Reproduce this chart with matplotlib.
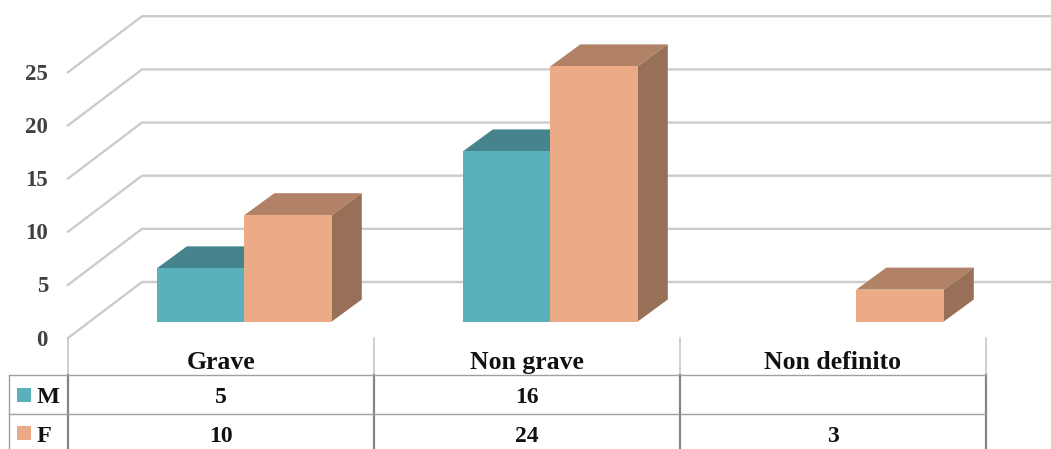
import matplotlib
matplotlib.use('Agg')
import matplotlib.pyplot as plt
from matplotlib.patches import Polygon, Rectangle

categories = ['Grave', 'Non grave', 'Non definito']
series_names = ['M', 'F']
m_values = [5, 16, None]
f_values = [10, 24, 3]
y_ticks = [0, 5, 10, 15, 20, 25]

W, H = 1051, 449
CAT_PX = 306.0    # larghezza categoria
UNIT_PX = 10.63   # pixel per unita
X0_PX = 68.0
Y0_PX = 321.5     # base delle barre

plt.rcParams['font.family'] = ['Liberation Serif', 'DejaVu Serif']
plt.rcParams['font.weight'] = 'bold'

fig = plt.figure(figsize=(W / 100, H / 100), dpi=100)
ax = fig.add_axes([0, 0, 1, 1])
ax.set_xlim(-X0_PX / CAT_PX, (W - X0_PX) / CAT_PX)
ax.set_ylim((Y0_PX - H) / UNIT_PX, Y0_PX / UNIT_PX)
ax.axis('off')


def dx(px):
    return px / CAT_PX


def dy(px):
    return px / UNIT_PX


def py(px):
    # posizione verticale in pixel dell'immagine -> dati
    return (Y0_PX - px) / UNIT_PX


def px_x(px):
    return (px - X0_PX) / CAT_PX


# griglia prospettica
grid_col = '#cccccc'
for v in y_ticks:
    y_front = v - dy(16.5)
    y_back = v + dy(39.5)
    ax.plot([0, dx(74), (W + 5 - X0_PX) / CAT_PX], [y_front, y_back, y_back],
            color=grid_col, lw=1.7, solid_joinstyle='miter', zorder=1)
    ax.text(dx(-20), y_front - dy(7.5), str(v), ha='right', va='baseline',
            fontsize=16.5, color='#404040')

# barre 3D
bar_w = dx(87.5)
start = dx(88.8)
depth_x, depth_y = dx(30), dy(22)
colors = {
    'M': ('#5bb1bb', '#46848d', '#3f7780'),
    'F': ('#ebab87', '#b28266', '#986f57'),
}


def bar3d(x, val, cols, z):
    front, top, side = cols
    ax.add_patch(Polygon([(x, val), (x + bar_w, val), (x + bar_w + depth_x, val + depth_y),
                          (x + depth_x, val + depth_y)], fc=top, ec='none', zorder=z))
    ax.add_patch(Polygon([(x + bar_w, 0), (x + bar_w + depth_x, depth_y),
                          (x + bar_w + depth_x, val + depth_y), (x + bar_w, val)],
                         fc=side, ec='none', zorder=z))
    ax.add_patch(Rectangle((x, 0), bar_w, val, fc=front, ec='none', zorder=z + 0.1))


for i in range(len(categories)):
    if m_values[i] is not None:
        bar3d(i + start, m_values[i], colors['M'], 3)
    if f_values[i] is not None:
        bar3d(i + start + bar_w, f_values[i], colors['F'], 4)

# tabella dati
row_tops = [338, 375, 414, 449]
light, dark = '#c4c4c4', '#858585'
for i in range(len(categories) + 1):
    ax.plot([i, i], [py(row_tops[0]), py(row_tops[1])], color=light, lw=1.1, zorder=5)
    ax.plot([i, i], [py(row_tops[1]), py(row_tops[3])], color=dark, lw=1.6, zorder=5)
for r in row_tops[1:3]:
    ax.plot([px_x(9), len(categories)], [py(r), py(r)], color='#a0a0a0', lw=1.0, zorder=5)
ax.plot([px_x(9), px_x(9)], [py(375), py(449)], color='#a0a0a0', lw=1.0, zorder=5)

for i, c in enumerate(categories):
    ax.text(i + 0.5, py(369), c, ha='center', va='baseline', fontsize=18.5, color='#111111')

rows = [m_values, f_values]
baselines = [403, 441.5]
swatch_mid = [395, 433]
for name, vals, yb, ym in zip(series_names, rows, baselines, swatch_mid):
    ax.add_patch(Rectangle((px_x(17), py(ym + 7)), dx(14), dy(14),
                           fc=colors[name][0], ec='none', zorder=5))
    ax.text(px_x(37), py(yb), name, ha='left', va='baseline', fontsize=17.5, color='#111111')
    for i, v in enumerate(vals):
        if v is not None:
            ax.text(i + 0.5, py(yb), str(v), ha='center', va='baseline', fontsize=17, color='#111111')

fig.savefig('out.png', dpi=100)
